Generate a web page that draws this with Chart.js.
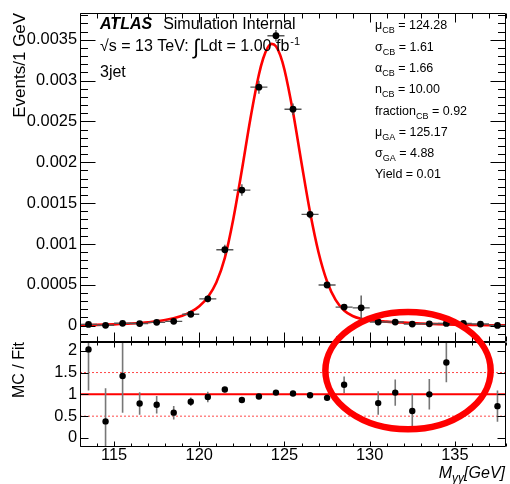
<!DOCTYPE html>
<html>
<head>
<meta charset="utf-8">
<script src="https://cdn.jsdelivr.net/npm/chart.js@4.4.1/dist/chart.umd.min.js"></script>
<style>
  html, body { margin: 0; padding: 0; background: #fff; }
  #wrap { position: relative; width: 510px; height: 484px; }
  #wrap canvas { position: absolute; left: 0; top: 0; }
</style>
</head>
<body>
<div id="wrap">
  <canvas id="mainCanvas" width="510" height="484"></canvas>
  <canvas id="ratioCanvas" width="510" height="484"></canvas>
</div>
<script>
// Diphoton mass, 1 GeV bins
const massRange = [113, 138];
const binCenters = [113.5, 114.5, 115.5, 116.5, 117.5, 118.5, 119.5, 120.5, 121.5, 122.5,
                    123.5, 124.5, 125.5, 126.5, 127.5, 128.5, 129.5, 130.5, 131.5, 132.5,
                    133.5, 134.5, 135.5, 136.5, 137.5];

// MC events per GeV and their uncertainties
const events = [0.0000154, 0.0000047, 0.0000287, 0.0000257, 0.0000404, 0.0000527, 0.0001395, 0.000328, 0.00093, 0.00166,
                0.00292, 0.00355, 0.00265, 0.001363, 0.000498, 0.000227, 0.000218, 0.0000447, 0.0000441, 0.0000197,
                0.0000228, 0.0000273, 0.000027, 0.00002, 0.0000029];
const eventErrors = [0.0000075, 0.0000094, 0.000017, 0.0000085, 0.0000106, 0.000014, 0.000016, 0.000042, 0.00006, 0.00007,
                     0.00008, 0.00007, 0.00007, 0.00005, 0.000033, 0.000035, 0.00015, 0.000015, 0.000013, 0.000012,
                     0.000008, 0.000007, 0.00001, 0.00001, 0.0000015];

// Crystal Ball + Gaussian fit curve
const fitMass = [113, 114, 115, 116, 117, 118, 119, 119.5, 120, 120.5, 121, 121.5, 122, 122.5, 123, 123.5, 123.75, 124,
                 124.25, 124.5, 124.75, 125, 125.5, 126, 126.5, 127, 127.5, 128, 128.5, 129, 129.5, 130, 131, 132,
                 133, 134, 135, 136, 137, 138];
const fitValues = [0.0000058, 0.0000097, 0.000016, 0.0000256, 0.0000415, 0.000069, 0.000122, 0.000168, 0.000239, 0.000349,
                   0.000529, 0.00083, 0.00131, 0.001905, 0.002534, 0.003075, 0.003271, 0.003399, 0.00345, 0.00342,
                   0.003312, 0.003133, 0.002615, 0.001992, 0.001391, 0.000896, 0.000541, 0.000315, 0.000186, 0.000118,
                   0.000084, 0.000066, 0.000049, 0.000037, 0.000027, 0.000019, 0.000013, 0.0000084, 0.0000052, 0.0000031];

// MC / Fit per bin
const ratioValues = [2.03, 0.38, 1.42, 0.79, 0.76, 0.58, 0.83, 0.94, 1.11, 0.87,
                     0.95, 1.04, 1.02, 0.98, 0.92, 1.22, 2.6, 0.80, 1.04, 0.62,
                     1.0, 1.73, 2.6, 3.0, 0.73];
const ratioErrors = [0.94, 0.76, 0.84, 0.26, 0.20, 0.155, 0.095, 0.12, 0.06, 0.04,
                     0.03, 0.02, 0.025, 0.035, 0.06, 0.19, 0.7, 0.27, 0.30, 0.38,
                     0.35, 0.45, 1.0, 1.5, 0.36];
const ratioGuides = [0.5, 1, 1.5];

// axis ranges and tick labels
const eventsRange = [-0.0002, 0.00383];
const ratioRange = [-0.2, 2.2];
const eventTickValues = [0, 0.0005, 0.001, 0.0015, 0.002, 0.0025, 0.003, 0.0035];
const ratioTickValues = [0, 0.5, 1, 1.5, 2];
const massTickValues = [115, 120, 125, 130, 135];

// fit results
const fitParamNames = ['\u03bc', '\u03c3', '\u03b1', 'n', 'fraction', '\u03bc', '\u03c3', 'Yield'];
const fitParamSubs = ['CB', 'CB', 'CB', 'CB', 'CB', 'GA', 'GA', ''];
const fitParamValues = ['124.28', '1.61', '1.66', '10.00', '0.92', '125.17', '4.88', '0.01'];

// region of the tail marked on the plot (mass in GeV, ratio units)
const highlightMass = [127.4, 137.1];
const highlightRatio = [0.2, 2.89];

const FONT = '"Liberation Sans", Arial, Helvetica, sans-serif';
Chart.defaults.font.family = FONT;
Chart.defaults.color = '#000';

function setFont(ctx, size, style) {
  ctx.font = (style ? style + ' ' : '') + size + 'px ' + FONT;
}

function drawErrorBars(chart, ds) {
  const { ctx, chartArea: a } = chart;
  const xs = chart.scales.x, ys = chart.scales.y;
  ctx.save();
  ctx.beginPath();
  ctx.rect(a.left, a.top, a.right - a.left, a.bottom - a.top);
  ctx.clip();
  ctx.strokeStyle = ds.errorColor;
  ctx.lineWidth = ds.errorWidth;
  ds.data.forEach((p, i) => {
    if (p.y === null) return;
    const e = ds.errors[i];
    const px = xs.getPixelForValue(p.x);
    const py = ys.getPixelForValue(p.y);
    ctx.beginPath();
    ctx.moveTo(px, ys.getPixelForValue(p.y - e));
    ctx.lineTo(px, ys.getPixelForValue(p.y + e));
    if (ds.binHalfWidth) {
      ctx.moveTo(xs.getPixelForValue(p.x - ds.binHalfWidth), py);
      ctx.lineTo(xs.getPixelForValue(p.x + ds.binHalfWidth), py);
    }
    ctx.stroke();
  });
  ctx.restore();
}

// ROOT style frame with inward ticks
function drawFrame(chart, cfg) {
  const { ctx, chartArea: a } = chart;
  const xs = chart.scales.x, ys = chart.scales.y;
  ctx.save();
  ctx.strokeStyle = '#000';
  ctx.lineWidth = 1;
  const L = Math.round(a.left) + 0.5, R = Math.round(a.right) - 0.5;
  const T = Math.round(a.top) + 0.5, B = Math.round(a.bottom) - 0.5;
  ctx.beginPath();
  ctx.rect(L, T, R - L, B - T);
  ctx.stroke();
  ctx.beginPath();
  for (let m = massRange[0]; m <= massRange[1]; m++) {
    const px = Math.round(xs.getPixelForValue(m)) + 0.5;
    const major = m % 5 === 0;
    const bl = major ? cfg.xMajorBottom : cfg.xMinorBottom;
    const tl = major ? cfg.xMajorTop : cfg.xMinorTop;
    ctx.moveTo(px, B); ctx.lineTo(px, B - bl);
    ctx.moveTo(px, T); ctx.lineTo(px, T + tl);
  }
  for (let k = cfg.yFrom; k <= cfg.yTo; k++) {
    const v = k * cfg.yStep;
    const py = Math.round(ys.getPixelForValue(v)) + 0.5;
    if (py < T || py > B) continue;
    const len = (k % cfg.yMajorEvery === 0) ? cfg.yMajor : cfg.yMinor;
    ctx.moveTo(L, py); ctx.lineTo(L + len, py);
    ctx.moveTo(R, py); ctx.lineTo(R - len, py);
  }
  ctx.stroke();
  ctx.restore();
}

function drawTextRun(ctx, x, baseline, parts) {
  let cx = x;
  parts.forEach(p => {
    setFont(ctx, p.size, p.style);
    ctx.fillText(p.text, cx, baseline + (p.dy || 0));
    cx += ctx.measureText(p.text).width + (p.gap || 0);
  });
  return cx;
}
function runWidth(ctx, parts) {
  let w = 0;
  parts.forEach(p => { setFont(ctx, p.size, p.style); w += ctx.measureText(p.text).width + (p.gap || 0); });
  return w;
}

const mainDecor = {
  id: 'mainDecor',
  beforeDatasetDraw(chart, args) {
    const ds = chart.data.datasets[args.index];
    if (ds.errors) drawErrorBars(chart, ds);
  },
  afterDraw(chart) {
    drawFrame(chart, { xMajorBottom: 9, xMinorBottom: 5, xMajorTop: 9, xMinorTop: 5,
                       yFrom: -2, yTo: 38, yStep: 0.0001, yMajorEvery: 5, yMajor: 15, yMinor: 7.5 });
    const { ctx, chartArea: a } = chart;
    ctx.save();
    ctx.fillStyle = '#000';
    ctx.textAlign = 'left';
    ctx.textBaseline = 'alphabetic';
    const x0 = a.left + 20;
    drawTextRun(ctx, x0, 29, [
      { text: 'ATLAS', size: 16, style: 'italic bold', gap: 11 },
      { text: 'Simulation Internal', size: 16 }
    ]);
    drawTextRun(ctx, x0, 51, [
      { text: '\u221as = 13 TeV: ', size: 16 },
      { text: '\u222b', size: 21, dy: 3, gap: 1 },
      { text: 'Ldt = 1.00 fb', size: 16, gap: 1 },
      { text: '-1', size: 11, dy: -6 }
    ]);
    drawTextRun(ctx, x0, 77, [{ text: '3jet', size: 16 }]);

    const sx = a.left + 295;
    fitParamNames.forEach((name, i) => {
      const base = 29.3 + i * 21.3;
      const parts = [{ text: name, size: 12.5 }];
      if (fitParamSubs[i]) parts.push({ text: fitParamSubs[i], size: 9, dy: 4 });
      parts.push({ text: ' = ' + fitParamValues[i], size: 12.5 });
      drawTextRun(ctx, sx, base, parts);
    });
    ctx.restore();
  }
};

const ratioDecor = {
  id: 'ratioDecor',
  beforeDatasetDraw(chart, args) {
    const ds = chart.data.datasets[args.index];
    if (ds.errors) drawErrorBars(chart, ds);
  },
  afterDraw(chart) {
    drawFrame(chart, { xMajorBottom: 5, xMinorBottom: 3, xMajorTop: 5, xMinorTop: 3,
                       yFrom: 0, yTo: 4, yStep: 0.5, yMajorEvery: 1, yMajor: 8, yMinor: 8 });
    const { ctx, chartArea: a } = chart;
    const xs = chart.scales.x, ys = chart.scales.y;
    ctx.save();
    ctx.fillStyle = '#000';
    ctx.textBaseline = 'alphabetic';
    ctx.textAlign = 'left';
    const title = [
      { text: 'M', size: 16, style: 'italic' },
      { text: '\u03b3\u03b3', size: 12, style: 'italic', dy: 4 },
      { text: '[GeV]', size: 16, style: 'italic' }
    ];
    drawTextRun(ctx, a.right - 1 - runWidth(ctx, title), 478, title);

    // highlighted tail region
    const x1 = xs.getPixelForValue(highlightMass[0]), x2 = xs.getPixelForValue(highlightMass[1]);
    const y1 = ys.getPixelForValue(highlightRatio[1]), y2 = ys.getPixelForValue(highlightRatio[0]);
    ctx.beginPath();
    ctx.ellipse((x1 + x2) / 2, (y1 + y2) / 2, (x2 - x1) / 2, (y2 - y1) / 2, 0, 0, Math.PI * 2);
    ctx.strokeStyle = '#f00';
    ctx.lineWidth = 6.5;
    ctx.stroke();
    ctx.restore();
  }
};

const massScale = {
  type: 'linear', min: massRange[0], max: massRange[1]
};

new Chart(document.getElementById('mainCanvas'), {
  data: {
    datasets: [
      {
        type: 'line',
        data: fitMass.map((m, i) => ({ x: m, y: fitValues[i] })),
        borderColor: '#ff0000',
        borderWidth: 2.6,
        pointRadius: 0,
        cubicInterpolationMode: 'monotone',
        fill: false,
        order: 2
      },
      {
        type: 'scatter',
        data: binCenters.map((m, i) => ({ x: m, y: events[i] })),
        errors: eventErrors,
        binHalfWidth: 0.5,
        errorColor: '#555',
        errorWidth: 1.4,
        pointRadius: 3.4,
        pointBackgroundColor: '#000',
        pointBorderColor: '#000',
        pointBorderWidth: 0,
        order: 1
      }
    ]
  },
  options: {
    responsive: false,
    animation: false,
    layout: { padding: { left: 0, top: 4.5, right: 1, bottom: 142 } },
    plugins: { legend: { display: false }, tooltip: { enabled: false } },
    scales: {
      x: Object.assign({ display: false }, massScale),
      y: {
        type: 'linear', min: eventsRange[0], max: eventsRange[1],
        afterFit: s => { s.width = 80; },
        afterBuildTicks: s => { s.ticks = eventTickValues.map(v => ({ value: v })); },
        grid: { display: false, drawTicks: false },
        border: { display: false },
        ticks: {
          padding: 3, autoSkip: false, font: { size: 16.4 }, color: '#000',
          callback: v => (Math.abs(v) < 1e-12 ? '0' : String(parseFloat(v.toFixed(4))))
        },
        title: {
          display: true, text: 'Events/1 GeV', align: 'end', color: '#000',
          font: { size: 17 }, padding: { top: 10.5, bottom: 0 }
        }
      }
    }
  },
  plugins: [mainDecor]
});

new Chart(document.getElementById('ratioCanvas'), {
  data: {
    datasets: [
      ...ratioGuides.map(g => ({
        type: 'line',
        data: [{ x: massRange[0], y: g }, { x: massRange[1], y: g }],
        borderColor: g === 1 ? '#ff0000' : 'rgba(255,40,40,0.85)',
        borderWidth: g === 1 ? 2 : 1,
        borderDash: g === 1 ? [] : [2, 2],
        pointRadius: 0,
        fill: false,
        order: 2
      })),
      {
        type: 'scatter',
        // points beyond the frame are not drawn
        data: binCenters.map((m, i) => ({ x: m, y: ratioValues[i] <= ratioRange[1] ? ratioValues[i] : null })),
        errors: ratioErrors,
        errorColor: '#777',
        errorWidth: 1.6,
        pointRadius: 3.2,
        pointBackgroundColor: '#000',
        pointBorderColor: '#000',
        pointBorderWidth: 0,
        order: 1
      }
    ]
  },
  options: {
    responsive: false,
    animation: false,
    layout: { padding: { left: 0, top: 342, right: 1, bottom: 0 } },
    plugins: { legend: { display: false }, tooltip: { enabled: false } },
    scales: {
      x: Object.assign({
        display: true,
        afterFit: s => { s.height = 37.3; },
        afterBuildTicks: s => { s.ticks = massTickValues.map(v => ({ value: v })); },
        grid: { display: false, drawTicks: false },
        border: { display: false },
        ticks: { padding: -1, autoSkip: false, maxRotation: 0, font: { size: 16.4 }, color: '#000' }
      }, massScale),
      y: {
        type: 'linear', min: ratioRange[0], max: ratioRange[1],
        afterFit: s => { s.width = 80; },
        afterBuildTicks: s => { s.ticks = ratioTickValues.map(v => ({ value: v })); },
        grid: { display: false, drawTicks: false },
        border: { display: false },
        ticks: { padding: 3, autoSkip: false, font: { size: 16.4 }, color: '#000', callback: v => String(v) },
        title: {
          display: true, text: 'MC / Fit', align: 'end', color: '#000',
          font: { size: 16 }, padding: { top: 10, bottom: 0 }
        }
      }
    }
  },
  plugins: [ratioDecor]
});
</script>
</body>
</html>
